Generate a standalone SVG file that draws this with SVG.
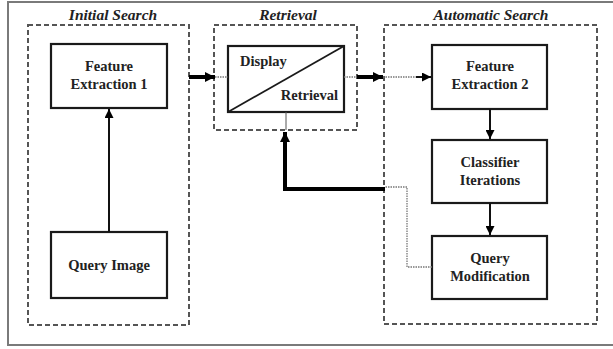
<svg xmlns="http://www.w3.org/2000/svg" width="613" height="349" viewBox="0 0 613 349">
<defs>
<style>
.frame{fill:none;stroke:#7a7a7a;stroke-width:2}
.group{fill:none;stroke:#555;stroke-width:2;stroke-dasharray:5,3}
.box{fill:#fff;stroke:#1a1a1a;stroke-width:2.2}
.title{font-family:"Liberation Serif",serif;font-weight:bold;font-style:italic;font-size:15.5px;fill:#222;text-anchor:middle}
.lbl{font-family:"Liberation Serif",serif;font-weight:bold;font-size:14.5px;fill:#222;text-anchor:middle}
.thick{fill:none;stroke:#000;stroke-width:4}
.thin{fill:none;stroke:#111;stroke-width:2}
.dot{fill:none;stroke:#777;stroke-width:1.3;stroke-dasharray:1.5,1}
</style>
<marker id="ah" viewBox="0 0 10 10" refX="10" refY="5" markerWidth="12" markerHeight="10" markerUnits="userSpaceOnUse" orient="auto"><path d="M0,0L10,5L0,10z" fill="#000"/></marker>
<marker id="ahs" viewBox="0 0 10 10" refX="10" refY="5" markerWidth="14" markerHeight="9" markerUnits="userSpaceOnUse" orient="auto"><path d="M0,0L10,5L0,10z" fill="#000"/></marker>
</defs>
<rect width="613" height="349" fill="#fff"/>
<path class="frame" d="M620,2H8V345H620"/>
<g id="initial-search">
<rect class="group" x="28" y="25" width="161" height="300"/>
<text class="title" x="113" y="20">Initial Search</text>
</g>
<g id="retrieval-group">
<rect class="group" x="214" y="25" width="143" height="105"/>
<text class="title" x="288" y="20">Retrieval</text>
</g>
<g id="automatic-search">
<rect class="group" x="384" y="25" width="213" height="299"/>
<text class="title" x="491" y="20">Automatic Search</text>
</g>
<g id="fe1">
<rect class="box" x="51" y="44" width="116" height="64"/>
<text class="lbl" x="109" y="71">Feature</text>
<text class="lbl" x="109" y="89">Extraction 1</text>
</g>
<g id="query-image">
<rect class="box" x="51" y="232" width="116" height="66"/>
<text class="lbl" x="109" y="270">Query Image</text>
</g>
<g id="display-retrieval">
<rect class="box" x="228" y="46" width="116" height="66"/>
<line x1="228" y1="112" x2="344" y2="46" stroke="#1a1a1a" stroke-width="1.8"/>
<text class="lbl" x="240" y="66" style="text-anchor:start">Display</text>
<text class="lbl" x="338" y="100" style="text-anchor:end">Retrieval</text>
</g>
<g id="fe2">
<rect class="box" x="432" y="45" width="115" height="64"/>
<text class="lbl" x="490" y="71">Feature</text>
<text class="lbl" x="490" y="89">Extraction 2</text>
</g>
<g id="classifier">
<rect class="box" x="432" y="140" width="115" height="63"/>
<text class="lbl" x="490" y="167">Classifier</text>
<text class="lbl" x="490" y="185">Iterations</text>
</g>
<g id="query-mod">
<rect class="box" x="432" y="236" width="115" height="63"/>
<text class="lbl" x="490" y="263">Query</text>
<text class="lbl" x="490" y="281">Modification</text>
</g>
<g id="connectors">
<line class="thin" x1="109" y1="232" x2="109" y2="109" marker-end="url(#ahs)"/>
<line class="thick" x1="189" y1="77" x2="215" y2="77" marker-end="url(#ah)"/>
<line class="dot" x1="215" y1="77" x2="228" y2="77"/>
<line class="dot" x1="344" y1="77" x2="357" y2="77"/>
<line class="thick" x1="357" y1="77" x2="383" y2="77" marker-end="url(#ah)"/>
<line class="dot" x1="383" y1="77" x2="418" y2="77"/>
<line class="thin" x1="416" y1="77" x2="431" y2="77" marker-end="url(#ahs)"/>
<line class="thin" x1="490" y1="109" x2="490" y2="139" marker-end="url(#ahs)"/>
<line class="thin" x1="490" y1="203" x2="490" y2="235" marker-end="url(#ahs)"/>
<polyline class="dot" points="432,267 407,267 407,187 385,187"/>
<polyline class="thick" points="385,189 285,189 285,132" marker-end="url(#ah)"/>
<line x1="286" y1="112" x2="286" y2="130" stroke="#555" stroke-width="1"/>
</g>
</svg>
